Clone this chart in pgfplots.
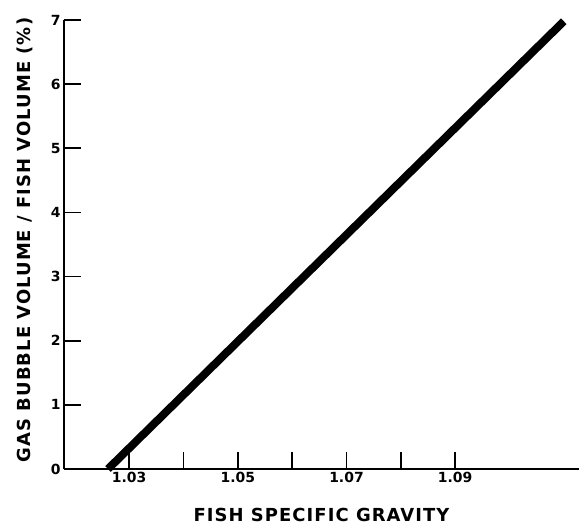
\documentclass[border=0pt]{standalone}
\usepackage{pgfplots}
\pgfplotsset{compat=1.18}
\usepackage{fontspec}
\setmainfont{DejaVu Sans}
\newfontfamily\lblfont[LetterSpace=6]{DejaVu Sans}
\begin{document}
\begin{tikzpicture}
\begin{axis}[
  scale only axis,
  width=515bp, height=449bp,
  xmin=1.0180, xmax=1.1128,
  ymin=0, ymax=7,
  axis lines*=left,
  axis line style={line width=1.8pt, -},
  tick align=inside,
  major tick length=17bp,
  every tick/.style={black, line width=1.6pt},
  xtick={1.03,1.04,1.05,1.06,1.07,1.08,1.09},
  xticklabels={1.03,,1.05,,1.07,,1.09},
  ytick={0,1,2,3,4,5,6,7},
  yticklabels={0,1,2,3,4,5,6,7},
  tick label style={font=\bfseries\fontsize{14}{16}\selectfont},
  xlabel={FISH SPECIFIC GRAVITY},
  ylabel={GAS BUBBLE VOLUME / FISH VOLUME (\%)},
  every axis x label/.style={at={(axis description cs:0.5,0)}, anchor=center, yshift=-46bp, font=\lblfont\bfseries\fontsize{18}{20}\selectfont},
  every axis y label/.style={at={(axis description cs:-0.0757,0.51)}, rotate=90, anchor=center, font=\lblfont\bfseries\fontsize{18}{20}\selectfont},
  clip=false,
]
\addplot[black, line width=8pt, line cap=butt] coordinates {(1.0261,0) (1.1100,6.98)};
\coordinate (O) at (rel axis cs:0,0);
\coordinate (T) at (rel axis cs:1,1);
\end{axis}
\pgfresetboundingbox
\path ([shift={(-64bp,-62bp)}]O) rectangle ([shift={(0bp,20bp)}]T);
\end{tikzpicture}
\end{document}
